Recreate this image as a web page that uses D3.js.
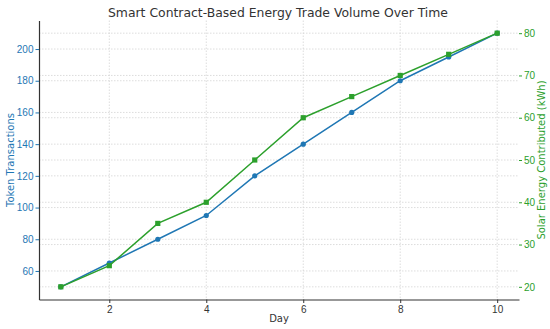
<!DOCTYPE html>
<html><head><meta charset="utf-8">
<script src="https://cdn.jsdelivr.net/npm/d3@7"></script>
<style>body{margin:0;background:#fff}svg{display:block;font-family:"DejaVu Sans",sans-serif}</style>
</head><body><svg id="c" width="550" height="329"></svg>
<script>
const days = [1,2,3,4,5,6,7,8,9,10];
const tokenTransactions = [50,65,80,95,120,140,160,180,195,210];
const solarEnergy = [20,25,35,40,50,60,65,70,75,80];
const xTicks = [2,4,6,8,10];
const leftTicks = [60,80,100,120,140,160,180,200];
const rightTicks = [20,30,40,50,60,70,80];

const blue = "#1f77b4", green = "#2ca02c";
const L = 39, R = 519, T = 20.5, B = 299.5;
const svg = d3.select("#c");
const x = d3.scaleLinear().domain([0.55,10.45]).range([L,R]);
const yL = d3.scaleLinear().domain([42,218]).range([B,T]);
const yR = d3.scaleLinear().domain([17,83]).range([B,T]);

// grids
const g = svg.append("g").attr("stroke","#d4d4d4").attr("stroke-width",0.8).attr("stroke-dasharray","1.5,1.5");
g.selectAll(".vx").data(xTicks).join("line").attr("x1",d=>x(d)).attr("x2",d=>x(d)).attr("y1",T).attr("y2",B);
g.selectAll(".hl").data(leftTicks).join("line").attr("class","hl").attr("x1",L).attr("x2",R).attr("y1",d=>yL(d)).attr("y2",d=>yL(d));
g.selectAll(".hr").data(rightTicks).join("line").attr("class","hr").attr("x1",L).attr("x2",R).attr("y1",d=>yR(d)).attr("y2",d=>yR(d));

// axes
const ax = svg.append("g").attr("transform",`translate(0,${B})`)
  .call(d3.axisBottom(x).tickValues(xTicks).tickSize(3.5).tickPadding(3).tickSizeOuter(0));
ax.select(".domain").attr("stroke","#333").attr("stroke-width",1.2);
ax.selectAll("text").attr("font-size",10).attr("fill","#333");
ax.selectAll(".tick line").attr("stroke","#333");

const al = svg.append("g").attr("transform",`translate(${L},0)`)
  .call(d3.axisLeft(yL).tickValues(leftTicks).tickSize(3.5).tickPadding(2).tickSizeOuter(0));
al.select(".domain").attr("stroke","#333").attr("stroke-width",1.2);
al.selectAll("text").attr("font-size",10).attr("fill",blue);
al.selectAll(".tick line").attr("stroke",blue);

const ar = svg.append("g").attr("transform",`translate(${R},0)`)
  .call(d3.axisRight(yR).tickValues(rightTicks).tickSize(3).tickPadding(2).tickSizeOuter(0));
ar.select(".domain").remove();
ar.selectAll("text").attr("font-size",10).attr("fill",green);
ar.selectAll(".tick line").attr("stroke",green);

// lines
const lineL = d3.line().x((d,i)=>x(days[i])).y(d=>yL(d));
const lineR = d3.line().x((d,i)=>x(days[i])).y(d=>yR(d));
svg.append("path").attr("d",lineL(tokenTransactions)).attr("fill","none").attr("stroke",blue).attr("stroke-width",1.5);
svg.selectAll(".pb").data(tokenTransactions).join("circle").attr("cx",(d,i)=>x(days[i])).attr("cy",d=>yL(d)).attr("r",2.6).attr("fill",blue);
svg.append("path").attr("d",lineR(solarEnergy)).attr("fill","none").attr("stroke",green).attr("stroke-width",1.5);
svg.selectAll(".pg").data(solarEnergy).join("rect").attr("x",(d,i)=>x(days[i])-2.6).attr("y",d=>yR(d)-2.6).attr("width",5.2).attr("height",5.2).attr("fill",green);

// labels
svg.append("text").attr("x",278).attr("y",17).attr("text-anchor","middle").attr("font-size",12.4).attr("fill","#333").text("Smart Contract-Based Energy Trade Volume Over Time");
svg.append("text").attr("x",279).attr("y",322).attr("text-anchor","middle").attr("font-size",10).attr("fill","#333").text("Day");
svg.append("text").attr("transform",`translate(14,${(T+B)/2}) rotate(-90)`).attr("text-anchor","middle").attr("font-size",10).attr("fill",blue).text("Token Transactions");
svg.append("text").attr("transform",`translate(545,${(T+B)/2}) rotate(-90)`).attr("text-anchor","middle").attr("font-size",10).attr("fill",green).text("Solar Energy Contributed (kWh)");
</script></body></html>
